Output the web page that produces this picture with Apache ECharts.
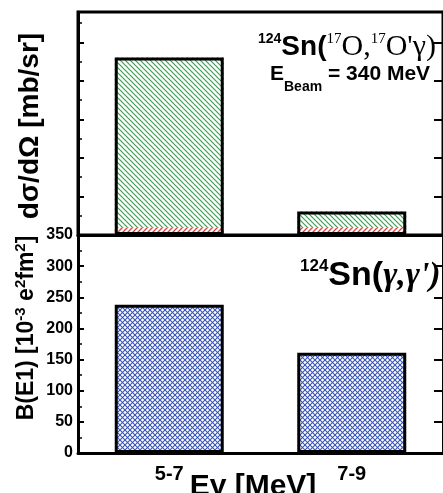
<!DOCTYPE html>
<html><head><meta charset="utf-8">
<script src="https://cdn.jsdelivr.net/npm/echarts@6/dist/echarts.min.js"></script>
<style>html,body{margin:0;padding:0;background:#fff}#c{width:443px;height:493px}</style>
</head><body><div id="c"></div>
<script>
// ---- data ----
const categories = ['5-7', '7-9'];
const topRed = [2.0, 1.8];          // small red-hatched bottom part (mb/sr)
const topGreen = [44.1, 4.3];       // green-hatched part (mb/sr)
const bE1 = [238, 161];             // B(E1) [1e-3 e^2 fm^2]
const bottomTicks = [0, 50, 100, 150, 200, 250, 300, 350];

const topTotal = topRed.map((v, i) => v + topGreen[i]);

function hatch(color, kind, size, lw) {
  const c = document.createElement('canvas');
  c.width = size; c.height = size;
  const g = c.getContext('2d');
  g.strokeStyle = color; g.lineWidth = lw;
  const lines = [];
  if (kind === 'back' || kind === 'cross') {
    lines.push([-size, 0, size, 2 * size], [0, 0, size, size], [0, -size, 2 * size, size]);
  }
  if (kind === 'fwd' || kind === 'cross') {
    lines.push([0, size, size, 0], [-size, size, size, -size], [0, 2 * size, 2 * size, 0]);
  }
  lines.forEach(l => { g.beginPath(); g.moveTo(l[0], l[1]); g.lineTo(l[2], l[3]); g.stroke(); });
  return { image: c, repeat: 'repeat' };
}

const green = hatch('#3f9e55', 'back', 5, 1.2);
const red = hatch('#e8403a', 'fwd', 5, 1.3);
const blue = hatch('#3a56b6', 'cross', 5, 1.1);

const chart = echarts.init(document.getElementById('c'));
const F = 'Liberation Sans, Arial, sans-serif';
const S = 'Liberation Serif, Times New Roman, serif';

const axisLine = { show: true, lineStyle: { color: '#000', width: 3 } };

chart.setOption({
  animation: false,
  grid: [
    { left: 78, width: 370, top: 12, height: 223, show: true, borderColor: '#000', borderWidth: 3 },
    { left: 78, width: 370, top: 235, bottom: 40 }
  ],
  xAxis: [
    { type: 'category', gridIndex: 0, data: categories, axisLine: axisLine,
      axisTick: { show: false }, axisLabel: { show: false } },
    { type: 'category', gridIndex: 1, data: categories, axisLine: axisLine,
      axisTick: { show: false },
      axisLabel: { color: '#000', fontFamily: F, fontWeight: 'bold', fontSize: 20, margin: 11 } }
  ],
  yAxis: [
    { type: 'value', gridIndex: 0, min: 0, max: 57.9, interval: 10,
      axisLine: axisLine, splitLine: { show: false }, axisLabel: { show: false },
      axisTick: { show: true, inside: true, length: 6, lineStyle: { color: '#000', width: 2 } },
      minorTick: { show: true, splitNumber: 2, length: 4, lineStyle: { color: '#000', width: 1.5 } } },
    { type: 'value', gridIndex: 1, min: 0, max: 350, interval: 50,
      axisLine: axisLine, splitLine: { show: false },
      axisLabel: { color: '#000', fontFamily: F, fontWeight: 'bold', fontSize: 16, margin: 5,
        customValues: bottomTicks },
      axisTick: { show: true, inside: true, length: 6, lineStyle: { color: '#000', width: 2 } },
      minorTick: { show: true, splitNumber: 2, length: 4, lineStyle: { color: '#000', width: 1.5 } } },
    { type: 'value', gridIndex: 0, position: 'right', min: 0, max: 57.9, interval: 10,
      axisLine: axisLine, splitLine: { show: false }, axisLabel: { show: false },
      axisTick: { show: true, inside: true, length: 9, lineStyle: { color: '#000', width: 2 } } },
    { type: 'value', gridIndex: 1, position: 'right', min: 0, max: 350, interval: 50,
      axisLine: axisLine, splitLine: { show: false }, axisLabel: { show: false },
      axisTick: { show: true, inside: true, length: 9, lineStyle: { color: '#000', width: 2 } } }
  ],
  series: [
    { type: 'bar', xAxisIndex: 0, yAxisIndex: 0, stack: 'top', data: topRed, barWidth: 109,
      itemStyle: { color: red } },
    { type: 'bar', xAxisIndex: 0, yAxisIndex: 0, stack: 'top', data: topGreen, barWidth: 109,
      itemStyle: { color: green } },
    { type: 'bar', xAxisIndex: 0, yAxisIndex: 0, data: topTotal, barWidth: 109, barGap: '-100%', z: 3,
      itemStyle: { color: 'rgba(0,0,0,0)', borderColor: '#000', borderWidth: 3 } },
    { type: 'bar', xAxisIndex: 1, yAxisIndex: 1, data: bE1, barWidth: 109,
      itemStyle: { color: blue, borderColor: '#000', borderWidth: 3 } }
  ],
  graphic: [
    { type: 'text', x: 258, y: 32, style: {
        text: '{s|124}{a|Sn(}{t|17}{b|O,}{t|17}{b|O\'γ)}',
        rich: {
          s: { fontFamily: F, fontWeight: 'bold', fontSize: 14, lineHeight: 14, verticalAlign: 'top', fill: '#000' },
          a: { fontFamily: F, fontWeight: 'bold', fontSize: 28, lineHeight: 30, fill: '#000' },
          t: { fontFamily: S, fontSize: 15, lineHeight: 15, verticalAlign: 'top', fill: '#000' },
          b: { fontFamily: S, fontSize: 30, lineHeight: 30, fill: '#000' }
        } } },
    { type: 'text', x: 270, y: 64, style: {
        text: '{a|E}{u|Beam}{a| = 340 MeV}',
        rich: {
          a: { fontFamily: F, fontWeight: 'bold', fontSize: 21, lineHeight: 30, verticalAlign: 'top', fill: '#000' },
          u: { fontFamily: F, fontWeight: 'bold', fontSize: 14, lineHeight: 14, verticalAlign: 'bottom', fill: '#000' }
        } } },
    { type: 'text', x: 300, y: 258, style: {
        text: '{s|124}{a|Sn(}{g|γ,γ\')}',
        rich: {
          s: { fontFamily: F, fontWeight: 'bold', fontSize: 17, lineHeight: 17, verticalAlign: 'top', fill: '#000' },
          a: { fontFamily: F, fontWeight: 'bold', fontSize: 34, lineHeight: 36, fill: '#000' },
          g: { fontFamily: S, fontStyle: 'italic', fontWeight: 'bold', fontSize: 34, lineHeight: 36, fill: '#000' }
        } } },
    { type: 'text', x: 30, y: 126, rotation: Math.PI / 2, style: {
        text: 'dσ/dΩ [mb/sr]', fontFamily: F, fontWeight: 'bold', fontSize: 28, fill: '#000',
        align: 'center', verticalAlign: 'middle' } },
    { type: 'text', x: 27, y: 328, rotation: Math.PI / 2, style: {
        text: '{a|B(E1) [10}{s|-3}{a| e}{s|2}{a|fm}{s|2}{a|]}', align: 'center', verticalAlign: 'middle',
        rich: {
          a: { fontFamily: F, fontWeight: 'bold', fontSize: 23, lineHeight: 28, fill: '#000' },
          s: { fontFamily: F, fontWeight: 'bold', fontSize: 15, lineHeight: 15, verticalAlign: 'top', fill: '#000' }
        } } },
    { type: 'text', x: 253, y: 487, style: {
        text: 'Eγ [MeV]', fontFamily: F, fontWeight: 'bold', fontSize: 30, fill: '#000',
        align: 'center', verticalAlign: 'middle' } }
  ]
});
</script></body></html>
